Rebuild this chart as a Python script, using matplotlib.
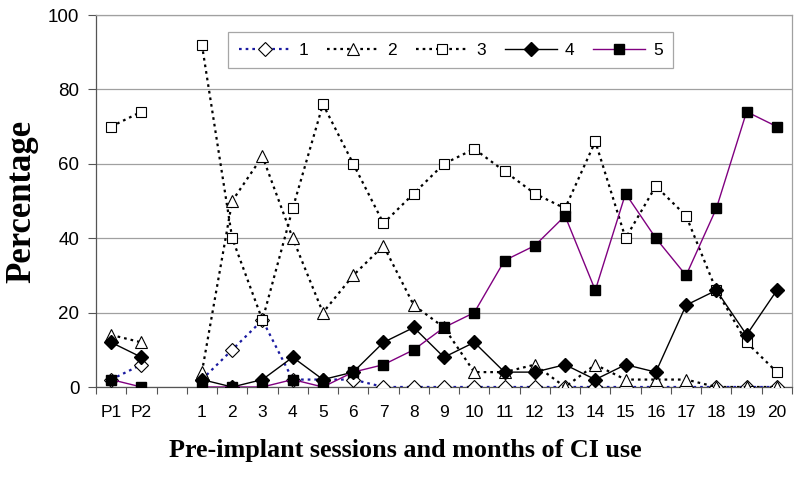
import numpy as np
import matplotlib
matplotlib.use("Agg")
import matplotlib.pyplot as plt
from matplotlib.ticker import FixedLocator

categories = ['P1', 'P2', ''] + [str(i) for i in range(1, 21)]
nan = np.nan
s1 = [2, 6, nan, 2, 10, 18, 2, 2, 2, 0, 0, 0, 0, 0, 0, 0, 0, 0, 0, 0, 0, 0, 0]
s2 = [14, 12, nan, 4, 50, 62, 40, 20, 30, 38, 22, 16, 4, 4, 6, 0, 6, 2, 2, 2, 0, 0, 0]
s3 = [70, 74, nan, 92, 40, 18, 48, 76, 60, 44, 52, 60, 64, 58, 52, 48, 66, 40, 54, 46, 26, 12, 4]
s4 = [12, 8, nan, 2, 0, 2, 8, 2, 4, 12, 16, 8, 12, 4, 4, 6, 2, 6, 4, 22, 26, 14, 26]
s5 = [2, 0, nan, 0, 0, 0, 2, 0, 4, 6, 10, 16, 20, 34, 38, 46, 26, 52, 40, 30, 48, 74, 70]
series_names = ['1', '2', '3', '4', '5']

plt.rcParams['font.family'] = ['Liberation Sans', 'DejaVu Sans']

fig = plt.figure(figsize=(8.0, 4.78), dpi=100)
ax = fig.add_axes([96/800, 1-387/478, (792-96)/800, (387-15)/478])

x = np.arange(len(categories))
dot = (0, (1.2, 1.8))
ax.plot(x, s1, color='#1a1aa0', linestyle=dot, linewidth=1.6, marker='D',
        markersize=7, markerfacecolor='white', markeredgecolor='black',
        markeredgewidth=0.8, label=series_names[0], zorder=3)
ax.plot(x, s2, color='black', linestyle=dot, linewidth=1.6, marker='^',
        markersize=8, markerfacecolor='white', markeredgecolor='black',
        markeredgewidth=0.8, label=series_names[1], zorder=3)
ax.plot(x, s3, color='black', linestyle=dot, linewidth=1.6, marker='s',
        markersize=7, markerfacecolor='white', markeredgecolor='black',
        markeredgewidth=0.8, label=series_names[2], zorder=3)
ax.plot(x, s4, color='black', linestyle='-', linewidth=1.0, marker='D',
        markersize=7.5, markerfacecolor='black', markeredgecolor='black',
        label=series_names[3], zorder=4)
ax.plot(x, s5, color='#800080', linestyle='-', linewidth=1.0, marker='s',
        markersize=6.5, markerfacecolor='black', markeredgecolor='black',
        label=series_names[4], zorder=4)

ax.set_xlim(-0.5, len(categories) - 0.5)
ax.set_ylim(0, 100)
ax.set_yticks(np.arange(0, 101, 20))
ax.set_xticks(x)
ax.set_xticklabels(categories)
ax.xaxis.set_minor_locator(FixedLocator(np.arange(-0.5, len(categories), 1.0)))
ax.tick_params(axis='x', which='major', length=0, labelsize=12.5, pad=13)
ax.tick_params(axis='x', which='minor', length=5, width=0.8, color='#555555', direction='out')
ax.tick_params(axis='y', which='major', length=6, width=0.8, color='#555555', labelsize=13.5, pad=6)

ax.grid(axis='y', color='#a0a0a0', linewidth=0.9)
ax.set_axisbelow(True)
for side in ['top', 'right']:
    ax.spines[side].set_color('#a0a0a0')
    ax.spines[side].set_linewidth(0.9)
for side in ['left', 'bottom']:
    ax.spines[side].set_color('#555555')
    ax.spines[side].set_linewidth(0.9)

ax.set_ylabel('Percentage', family='Liberation Serif', fontweight='bold', fontsize=25, labelpad=7)
ax.set_xlabel('Pre-implant sessions and months of CI use', family='Liberation Serif',
              fontweight='bold', fontsize=18.8)
ax.xaxis.set_label_coords(0.445, -0.139)

leg = ax.legend(ncol=5, loc='upper left', bbox_to_anchor=(0.19, 0.954),
                borderaxespad=0, frameon=True, fancybox=False, edgecolor='#909090',
                fontsize=12.5, handlelength=3.0, columnspacing=1.1,
                handletextpad=0.45, borderpad=0.6)
leg.get_frame().set_linewidth(0.9)

fig.savefig('out.png', dpi=100)
